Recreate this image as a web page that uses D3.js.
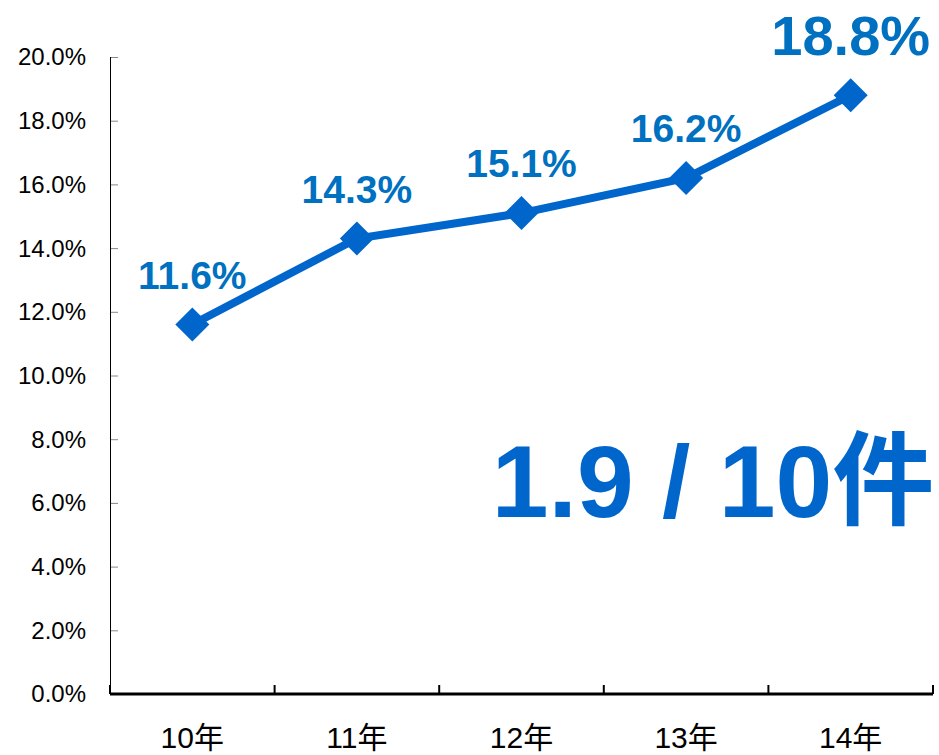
<!DOCTYPE html>
<html>
<head>
<meta charset="utf-8" />
<title>件数比率</title>
<script src="https://d3js.org/d3.v7.min.js"></script>
<style>
  body { margin: 0; padding: 0; background: #ffffff; }
  svg text { font-family: "Liberation Sans", Arial, "Noto Sans CJK JP", sans-serif; }
</style>
</head>
<body>
<div id="chart"></div>
<script>

const years = ['10年', '11年', '12年', '13年', '14年']
const rates = [11.6, 14.3, 15.1, 16.2, 18.8]
const rateLabels = ['11.6%', '14.3%', '15.1%', '16.2%', '18.8%']
const yTicks = [0, 2, 4, 6, 8, 10, 12, 14, 16, 18, 20]
const bigNote = '1.9 / 10件'

const width = 939, height = 755
const margin = {top: 57, right: 6, bottom: 61, left: 110}

const svg = d3.select('#chart')
  .append('svg')
  .attr('width', width)
  .attr('height', height)

const x = d3.scaleBand()
  .domain(years)
  .range([margin.left, width - margin.right])

const y = d3.scaleLinear()
  .domain([0, 20])
  .range([height - margin.bottom, margin.top])

// y axis
const yAxis = svg.append('g')
  .attr('transform', 'translate(' + margin.left + ',0)')
  .call(d3.axisRight(y).tickValues(yTicks).tickSize(8).tickFormat(''))
yAxis.select('.domain').remove()
yAxis.selectAll('.tick line').attr('stroke', '#888888').attr('stroke-width', 1)
svg.append('line')
  .attr('x1', margin.left + 0.5).attr('x2', margin.left + 0.5)
  .attr('y1', y(20)).attr('y2', y(0))
  .attr('stroke', '#000000').attr('stroke-width', 1)

svg.append('g')
  .selectAll('text')
  .data(yTicks)
  .enter()
  .append('text')
    .attr('x', 86)
    .attr('y', d => y(d))
    .attr('dy', '0.35em')
    .attr('text-anchor', 'end')
    .attr('font-size', 24)
    .attr('fill', '#000000')
    .text(d => d.toFixed(1) + '%')

// x axis with boundary ticks pointing up
const boundaries = years.map(d => x(d)).concat([x.range()[1]])
svg.append('line')
  .attr('x1', margin.left).attr('x2', width - margin.right)
  .attr('y1', y(0)).attr('y2', y(0))
  .attr('stroke', '#000000').attr('stroke-width', 3)
svg.append('g')
  .selectAll('line')
  .data(boundaries)
  .enter()
  .append('line')
    .attr('x1', d => d).attr('x2', d => d)
    .attr('y1', y(0)).attr('y2', y(0) - 9)
    .attr('stroke', '#000000').attr('stroke-width', 2)

svg.append('g')
  .selectAll('text')
  .data(years)
  .enter()
  .append('text')
    .attr('x', d => x(d) + x.bandwidth() / 2)
    .attr('y', 748)
    .attr('text-anchor', 'middle')
    .attr('font-size', 30)
    .attr('fill', '#000000')
    .text(d => d)

// line + markers
const data = years.map((d, i) => ({year: d, value: rates[i], label: rateLabels[i]}))

svg.append('path')
  .datum(data)
  .attr('fill', 'none')
  .attr('stroke', '#0066CC')
  .attr('stroke-width', 8)
  .attr('d', d3.line()
    .x(d => x(d.year) + x.bandwidth() / 2)
    .y(d => y(d.value)))

svg.selectAll('.marker')
  .data(data)
  .enter()
  .append('path')
    .attr('class', 'marker')
    .attr('fill', '#0066CC')
    .attr('transform', d => 'translate(' + (x(d.year) + x.bandwidth() / 2) + ',' + y(d.value) + ')')
    .attr('d', 'M0,-17L17,0L0,17L-17,0Z')

svg.selectAll('.val')
  .data(data)
  .enter()
  .append('text')
    .attr('class', 'val')
    .attr('x', d => x(d.year) + x.bandwidth() / 2)
    .attr('y', (d, i) => y(d.value) - (i == data.length - 1 ? 40 : 36))
    .attr('text-anchor', 'middle')
    .attr('font-weight', 'bold')
    .attr('font-size', (d, i) => i == data.length - 1 ? 56 : 39)
    .attr('fill', '#0070C0')
    .text(d => d.label)

// big note
svg.append('text')
  .attr('x', 713)
  .attr('y', 517)
  .attr('text-anchor', 'middle')
  .attr('font-weight', 'bold')
  .attr('font-size', 102)
  .attr('fill', '#0066CC')
  .text(bigNote)

</script>
</body>
</html>
